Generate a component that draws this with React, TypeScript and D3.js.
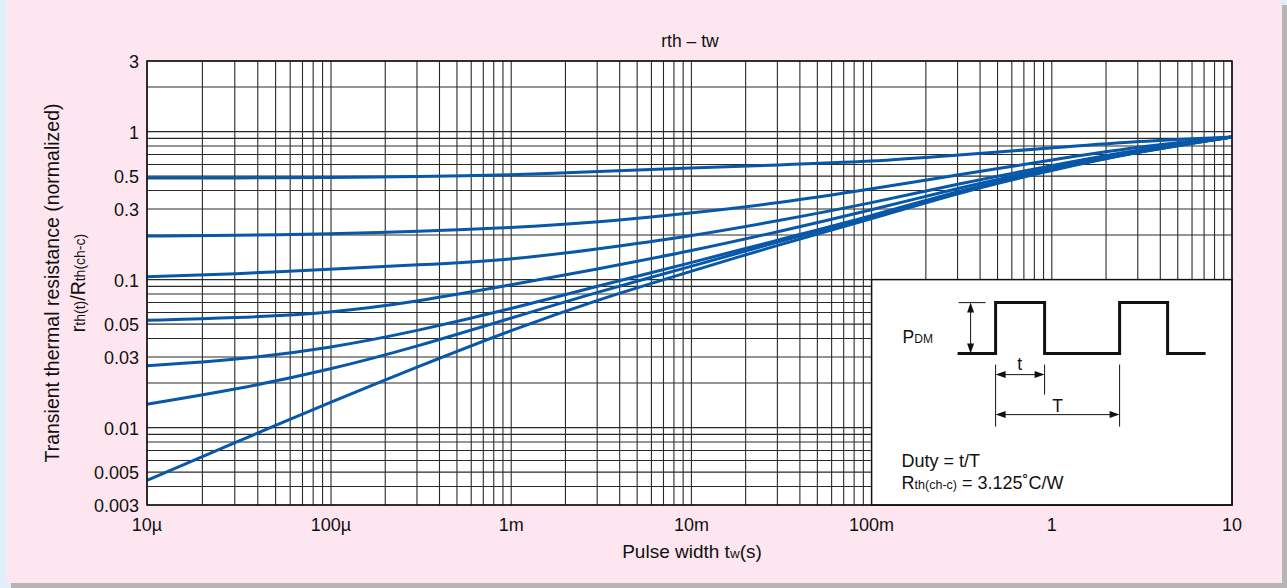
import React from 'react';
import * as d3 from 'd3';

const W = 1287;
const H = 588;

// pulse width (s) at which the curves were read
const pulseWidths = [1e-5, 3e-5, 1e-4, 3e-4, 1e-3, 3e-3, 1e-2, 3e-2, 0.1, 0.3, 1, 3, 10];

// normalized transient thermal resistance, one array per duty
const duty05 = [0.486, 0.486, 0.49, 0.497, 0.509, 0.538, 0.568, 0.595, 0.628, 0.695, 0.775, 0.864, 0.92];
const duty02 = [0.197, 0.199, 0.204, 0.211, 0.224, 0.243, 0.281, 0.328, 0.41, 0.509, 0.643, 0.79, 0.92];
const duty01 = [0.1046, 0.109, 0.118, 0.1255, 0.136, 0.161, 0.197, 0.249, 0.329, 0.443, 0.59, 0.757, 0.92];
const duty005 = [0.0531, 0.055, 0.0595, 0.071, 0.092, 0.118, 0.156, 0.21, 0.295, 0.416, 0.572, 0.745, 0.92];
const duty002 = [0.0262, 0.0286, 0.0345, 0.045, 0.0633, 0.0906, 0.13, 0.185, 0.269, 0.397, 0.559, 0.735, 0.92];
const duty001 = [0.0144, 0.018, 0.0247, 0.0353, 0.055, 0.0825, 0.1226, 0.18, 0.265, 0.391, 0.554, 0.733, 0.92];
const singlePulse = [0.0044, 0.0079, 0.0149, 0.0257, 0.0457, 0.073, 0.114, 0.171, 0.257, 0.385, 0.55, 0.73, 0.92];

const curves = [duty05, duty02, duty01, duty005, duty002, duty001, singlePulse];

const xTickValues = [1e-5, 1e-4, 1e-3, 1e-2, 1e-1, 1, 10];
const xTickLabels = ['10µ', '100µ', '1m', '10m', '100m', '1', '10'];
const yTickValues = [3, 1, 0.5, 0.3, 0.1, 0.05, 0.03, 0.01, 0.005, 0.003];
const yTickLabels = ['3', '1', '0.5', '0.3', '0.1', '0.05', '0.03', '0.01', '0.005', '0.003'];

const FONT = '"Liberation Sans", Arial, Helvetica, sans-serif';
const BLUE = '#0758a8';

function arrowHead(x: number, y: number, dir: 'l' | 'r' | 'u' | 'd') {
  const L = 10;
  const w = 3.5;
  let pts: number[][];
  if (dir === 'l') pts = [[x, y], [x + L, y - w], [x + L, y + w]];
  else if (dir === 'r') pts = [[x, y], [x - L, y - w], [x - L, y + w]];
  else if (dir === 'u') pts = [[x, y], [x - w, y + L], [x + w, y + L]];
  else pts = [[x, y], [x - w, y - L], [x + w, y - L]];
  return <polygon points={pts.map(p => p.join(',')).join(' ')} fill="#111" />;
}

export default function App() {
  const x = d3.scaleLog().domain([1e-5, 1e-4, 10]).range([147, 331, 1232]);
  const y = d3.scaleLog().domain([0.003, 3]).range([505, 61]);

  const xGrid: number[] = [];
  for (let e = -5; e <= 0; e++) for (let m = 1; m <= 9; m++) xGrid.push(+(m + 'e' + e));
  xGrid.push(10);
  const yGrid: number[] = [];
  for (let e = -3; e <= 0; e++) for (let m = 1; m <= 9; m++) {
    const v = +(m + 'e' + e);
    if (v >= 0.003 && v <= 3) yGrid.push(v);
  }

  const line = d3
    .line<number>()
    .x((_, i) => x(pulseWidths[i]))
    .y(d => y(d))
    .curve(d3.curveBasis);

  const [x0, x1] = [x(1e-5), x(10)];
  const [yTop, yBot] = [y(3), y(0.003)];

  // inset box
  const bx = x(0.1);
  const by = y(0.1);
  const bw = x(10) - bx;
  const bh = y(0.003) - by;
  const lo = by + 74;
  const hi = by + 23;
  const wave = [
    [bx + 86, lo], [bx + 124, lo], [bx + 124, hi], [bx + 173, hi], [bx + 173, lo],
    [bx + 248, lo], [bx + 248, hi], [bx + 296, hi], [bx + 296, lo], [bx + 334, lo],
  ];

  return (
    <svg width={W} height={H} style={{ position: 'absolute', left: 0, top: 0 }} fontFamily={FONT}>
      <rect x={0} y={0} width={W} height={H} fill="#dff0f8" />
      <rect x={11} y={5} width={W - 11} height={H - 5} fill="#b5b5b5" />
      <rect x={6} y={0} width={1276} height={583} fill="#fde6ef" />

      <text x={690} y={47} fontSize={17.5} textAnchor="middle" fill="#111">rth – tw</text>

      <rect x={x0} y={yTop} width={x1 - x0} height={yBot - yTop} fill="#fff" />
      <g stroke="#2a2a2a" strokeWidth={1.1}>
        {xGrid.map((v, i) => (
          <line key={'gx' + i} x1={x(v)} x2={x(v)} y1={yTop} y2={yBot} />
        ))}
        {yGrid.map((v, i) => (
          <line key={'gy' + i} x1={x0} x2={x1} y1={y(v)} y2={y(v)} />
        ))}
      </g>

      <g fill="none" stroke={BLUE} strokeWidth={3}>
        {curves.map((c, i) => (
          <path key={'c' + i} d={line(c) || ''} />
        ))}
      </g>

      <rect x={bx} y={by} width={bw} height={bh} fill="#fff" stroke="#111" strokeWidth={1.5} />
      <polyline points={wave.map(p => p.join(',')).join(' ')} fill="none" stroke="#111" strokeWidth={3} />
      <g stroke="#111" strokeWidth={1}>
        <line x1={bx + 87} x2={bx + 114} y1={hi} y2={hi} />
        <line x1={bx + 99} x2={bx + 99} y1={hi + 4} y2={lo - 4} />
        <line x1={bx + 124} x2={bx + 124} y1={by + 85} y2={by + 147} />
        <line x1={bx + 173} x2={bx + 173} y1={by + 85} y2={by + 115} />
        <line x1={bx + 248} x2={bx + 248} y1={by + 85} y2={by + 147} />
        <line x1={bx + 128} x2={bx + 169} y1={by + 95} y2={by + 95} />
        <line x1={bx + 128} x2={bx + 244} y1={by + 135} y2={by + 135} />
      </g>
      {arrowHead(bx + 99, hi, 'u')}
      {arrowHead(bx + 99, lo, 'd')}
      {arrowHead(bx + 124, by + 95, 'l')}
      {arrowHead(bx + 173, by + 95, 'r')}
      {arrowHead(bx + 124, by + 135, 'l')}
      {arrowHead(bx + 248, by + 135, 'r')}
      <g fill="#111">
        <text x={bx + 31} y={by + 63} fontSize={17.5}>
          P<tspan fontSize={12}>DM</tspan>
        </text>
        <text x={bx + 148} y={by + 90} fontSize={17.5} textAnchor="middle">t</text>
        <text x={bx + 186} y={by + 132} fontSize={17.5} textAnchor="middle">T</text>
        <text x={bx + 30} y={by + 187} fontSize={18}>Duty = t/T</text>
        <text x={bx + 30} y={by + 209} fontSize={18}>
          R<tspan fontSize={12.5}>th(ch-c)</tspan> = 3.125˚C/W
        </text>
      </g>

      <rect x={x0} y={yTop} width={x1 - x0} height={yBot - yTop} fill="none" stroke="#111" strokeWidth={1.5} />

      <g fontSize={18} fill="#111">
        {xTickValues.map((v, i) => (
          <text key={'xt' + i} x={x(v)} y={531} textAnchor="middle">{xTickLabels[i]}</text>
        ))}
        {yTickValues.map((v, i) => (
          <text key={'yt' + i} x={139} y={y(v) + 1} dy="0.35em" textAnchor="end">{yTickLabels[i]}</text>
        ))}
        <text x={692} y={558} textAnchor="middle" fontSize={19}>
          Pulse width t<tspan fontSize={13.5}>w</tspan>(s)
        </text>
        <text transform={`translate(59,${(yTop + yBot) / 2}) rotate(-90)`} textAnchor="middle" fontSize={19.5}>
          Transient thermal resistance (normalized)
        </text>
        <text transform={`translate(85,${(yTop + yBot) / 2}) rotate(-90)`} textAnchor="middle" fontSize={19.5}>
          r<tspan fontSize={14}>th(t)</tspan>/R<tspan fontSize={14}>th(ch-c)</tspan>
        </text>
      </g>
    </svg>
  );
}
